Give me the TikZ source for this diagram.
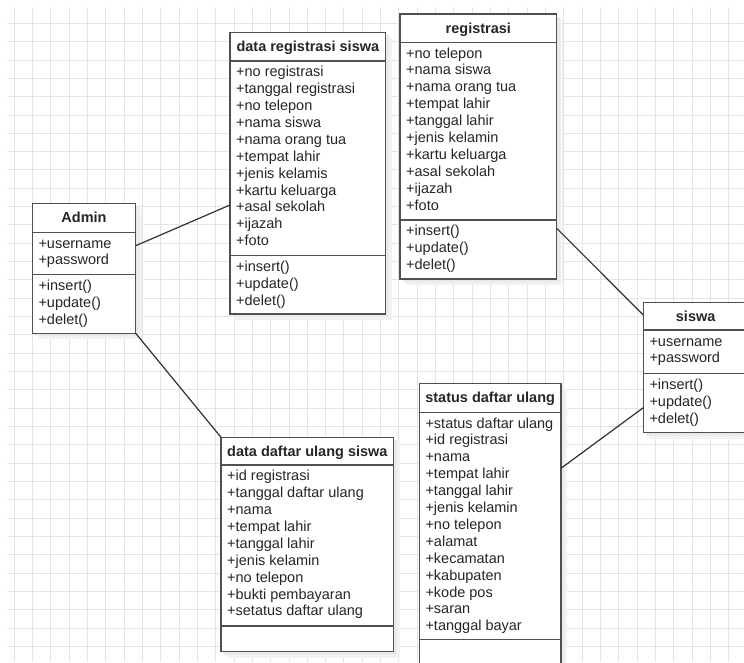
\documentclass[tikz,border=0pt]{standalone}
\usepackage{fontspec}
\setmainfont{Liberation Sans}
\usetikzlibrary{fit,calc}

\definecolor{ink}{HTML}{262626}
\definecolor{boxline}{HTML}{505050}
\definecolor{linkcol}{HTML}{303030}
\definecolor{gridcol}{HTML}{E4E4E4}
\definecolor{shadowA}{HTML}{F2F2F2}
\definecolor{shadowB}{HTML}{EAEAEA}

\tikzset{
  classbox/.style={draw=boxline, line width=1.3pt, fill=white, inner sep=0pt, outer sep=0pt},
  sepline/.style={draw=boxline, line width=1.3pt},
  classtitle/.style={font=\bfseries\fontsize{14.5}{17}\selectfont, text=ink, inner sep=0pt, anchor=base},
  member/.style={font=\fontsize{14.5}{17}\selectfont, text=ink, inner sep=0pt, anchor=base west},
  link/.style={draw=linkcol, line width=1.2pt},
  gridline/.style={draw=gridcol, line width=0.9pt}
}

% \umlclass{name}{left}{top}{right}{bottom}{title rule}{member rule}{title}
\newcommand\umlclass[8]{%
  \fill[shadowA] (#2+6,#3+6) rectangle (#4+6,#5+6);
  \fill[shadowB] (#2+3,#3+3) rectangle (#4+3,#5+3);
  \node[classbox, fit={(#2,#3) (#4,#5)}] (#1) {};
  \draw[sepline] (#2,#6) -- (#4,#6);
  \draw[sepline] (#2,#7) -- (#4,#7);
  \node[classtitle] (#1-title) at ({(#2+#4)/2},{(#3+#6)/2+5}) {#8};
}

% \umlrows{prefix}{left}{first row centre}{items}
\newcommand\umlrows[4]{%
  \foreach \t [count=\i from 0] in {#4}
    \node[member] (#1-\i) at ({#2+6},{#3+\i*16.9+5}) {\t};
}

\begin{document}
\begin{tikzpicture}[x=1pt,y=-1pt]
  \useasboundingbox (0,0) rectangle (744,662);
  \clip (0,0) rectangle (744,662);
  \fill[white] (0,0) rectangle (744,662);

  % background grid
  \foreach \k in {0,...,40}
    \draw[gridline] ({14+18.33*\k},7) -- ({14+18.33*\k},662);
  \foreach \k in {0,...,36}
    \draw[gridline] (7,{23.3+18.33*\k}) -- (744,{23.3+18.33*\k});

  % Admin
  \umlclass{admin}{32.3}{203.3}{135.7}{333.3}{232.3}{274.3}{Admin}
  \umlrows{admin-a}{32.3}{243.0}{+username,+password}
  \umlrows{admin-m}{32.3}{285.2}{+insert(),+update(),+delet()}

  % data registrasi siswa
  \umlclass{datareg}{230}{32.3}{385.7}{314}{61}{255.7}{data registrasi siswa}
  \umlrows{datareg-a}{230}{71.7}{+no registrasi,+tanggal registrasi,+no telepon,+nama siswa,+nama orang tua,+tempat lahir,+jenis kelamis,+kartu keluarga,+asal sekolah,+ijazah,+foto}
  \umlrows{datareg-m}{230}{266.6}{+insert(),+update(),+delet()}

  % registrasi
  \umlclass{registrasi}{400}{14}{556.7}{279}{42.3}{220}{registrasi}
  \umlrows{registrasi-a}{400}{53.0}{+no telepon,+nama siswa,+nama orang tua,+tempat lahir,+tanggal lahir,+jenis kelamin,+kartu keluarga,+asal sekolah,+ijazah,+foto}
  \umlrows{registrasi-m}{400}{230.9}{+insert(),+update(),+delet()}

  % siswa
  \umlclass{siswa}{643.3}{302.3}{748}{432.7}{330}{373.3}{siswa}
  \umlrows{siswa-a}{643.3}{341.0}{+username,+password}
  \umlrows{siswa-m}{643.3}{384.2}{+insert(),+update(),+delet()}

  % data daftar ulang siswa
  \umlclass{daftar}{221}{437.3}{393.7}{651.7}{465}{626}{data daftar ulang siswa}
  \umlrows{daftar-a}{221}{475.7}{+id registrasi,+tanggal daftar ulang,+nama,+tempat lahir,+tanggal lahir,+jenis kelamin,+no telepon,+bukti pembayaran,+setatus daftar ulang}

  % status daftar ulang
  \umlclass{status}{419.3}{383.3}{561}{690}{412.3}{639.3}{status daftar ulang}
  \umlrows{status-a}{419.3}{423.0}{+status daftar ulang,+id registrasi,+nama,+tempat lahir,+tanggal lahir,+jenis kelamin,+no telepon,+alamat,+kecamatan,+kabupaten,+kode pos,+saran,+tanggal bayar}

  % associations
  \draw[link] ([yshift=-42.4pt]admin.north east) -- ([yshift=-172.7pt]datareg.north west);
  \draw[link] (admin.south east) -- (daftar.north west);
  \draw[link] ([yshift=-214.3pt]registrasi.north east) -- ([yshift=-12.7pt]siswa.north west);
  \draw[link] ([yshift=-85pt]status.north east) -- ([yshift=-105.4pt]siswa.north west);
\end{tikzpicture}
\end{document}
